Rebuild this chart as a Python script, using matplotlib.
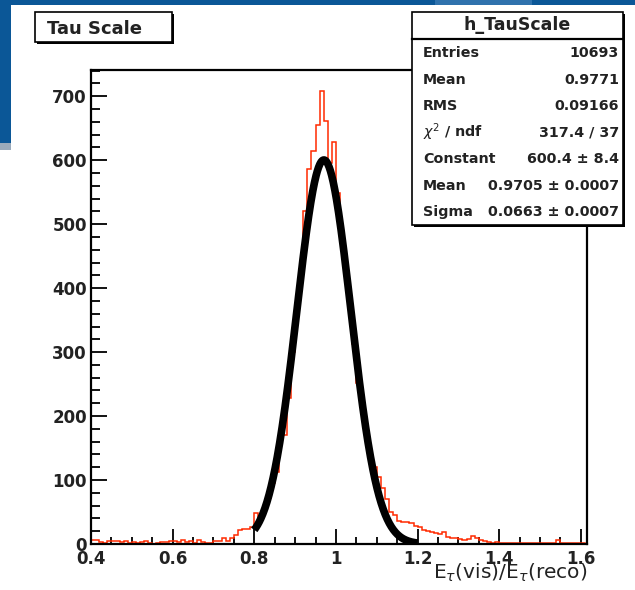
import numpy as np
import matplotlib.pyplot as plt
from matplotlib.patches import Rectangle
from matplotlib.ticker import MultipleLocator

# h_TauScale bin contents, 0.01 wide bins starting at 0.40
counts_low = [6, 7, 3, 2, 5, 4, 4, 3, 4, 2,
              3, 2, 3, 4, 1, 0, 1, 3, 3, 4,
              5, 3, 6, 3, 5, 2, 6, 3, 2, 1,
              5, 4, 9, 5, 10, 14, 22, 23, 23, 26]
counts_core = [48, 36, 55, 72, 95, 112, 165, 170, 228, 300,
               362, 430, 520, 587, 614, 655, 708, 661, 595, 629,
               548, 470, 440, 368, 312, 252, 214, 172, 134, 120,
               105, 88, 70, 50]
counts_high = [45, 36, 35, 34, 33, 28, 26, 22, 20, 18,
               17, 15, 19, 11, 10, 9, 8, 7, 8, 12,
               9, 6, 4, 3, 2, 3, 2, 1, 2, 1,
               2, 1, 2, 1, 2, 1, 1, 2, 1, 2,
               6, 2, 1, 1, 2, 1, 1]
counts = counts_low + counts_core + counts_high
x_first = 0.40
bin_width = 0.01

# gaussian fit result
fit_const = 600.4
fit_mean = 0.9705
fit_sigma = 0.0663
fit_lo, fit_hi = 0.8, 1.2

stat_names = ['Entries', 'Mean', 'RMS', r'$\chi^2$ / ndf',
              'Constant', 'Mean', 'Sigma']
stat_values = ['10693', '0.9771', '0.09166', '317.4 / 37',
               '600.4 \u00b1 8.4', '0.9705 \u00b1 0.0007', '0.0663 \u00b1 0.0007']

xticks = [0.4, 0.6, 0.8, 1.0, 1.2, 1.4, 1.6]
xtick_labels = ['0.4', '0.6', '0.8', '1', '1.2', '1.4', '1.6']
yticks = [0, 100, 200, 300, 400, 500, 600, 700]

W, H = 635, 590
fig = plt.figure(figsize=(W / 100, H / 100), dpi=100)
fig.patch.set_facecolor('white')


def box(x0, y0, x1, y1, **kw):
    # rectangle given in pixels from the top-left corner
    r = Rectangle((x0 / W, 1 - y1 / H), (x1 - x0) / W, (y1 - y0) / H,
                  transform=fig.transFigure, **kw)
    fig.add_artist(r)
    return r


def txt(x, y, s, **kw):
    return fig.text(x / W, 1 - y / H, s, **kw)


# slide background around the canvas
blue = '#0b5797'
box(0, 0, W, 5, facecolor=blue, edgecolor='none', zorder=0)
box(435, 0, 532, 5, facecolor='#2f72ad', edgecolor='none', zorder=0)
box(0, 0, 11, 143, facecolor=blue, edgecolor='none', zorder=0)
box(0, 143, 11, 150, facecolor='#9aaabb', edgecolor='none', zorder=0)

ax = fig.add_axes([91 / W, 1 - 544 / H, (587 - 91) / W, (544 - 70) / H])
edges = x_first + bin_width * np.arange(len(counts) + 1)
ax.stairs(counts, edges, color='#ff2a00', lw=1.1, zorder=2)

xs = np.linspace(fit_lo, fit_hi, 400)
ys = fit_const * np.exp(-0.5 * ((xs - fit_mean) / fit_sigma) ** 2)
ax.plot(xs, ys, color='black', lw=5.5, solid_capstyle='butt', zorder=3)

ax.set_xlim(0.4, 1.615)
ax.set_ylim(0, 741)
ax.set_xticks(xticks)
ax.set_xticklabels(xtick_labels)
ax.set_yticks(yticks)
ax.xaxis.set_minor_locator(MultipleLocator(0.05))
ax.yaxis.set_minor_locator(MultipleLocator(20))
ax.tick_params(axis='x', which='major', direction='in', length=11, width=1.3, pad=4)
ax.tick_params(axis='x', which='minor', direction='in', length=5, width=1.3)
ax.tick_params(axis='y', which='major', direction='in', length=11.5, width=1.3, pad=3)
ax.tick_params(axis='y', which='minor', direction='in', length=6.5, width=1.3)
for lab in ax.get_xticklabels() + ax.get_yticklabels():
    lab.set_fontsize(12)
    lab.set_fontweight('bold')
    lab.set_color('#222222')
for sp in ax.spines.values():
    sp.set_linewidth(1.6)

txt(587, 573, r'E$_{\tau}$(vis)/E$_{\tau}$(reco)', ha='right', va='center',
    fontsize=14.5, color='#222222')

# title box
box(37, 14, 174, 44, facecolor='black', edgecolor='none', zorder=5)
box(35, 12, 172, 42, facecolor='white', edgecolor='black', lw=1.2, zorder=6)
txt(47, 29, 'Tau Scale', ha='left', va='center', fontsize=13,
    fontweight='bold', color='#222222', zorder=7)

# statistics box
box(414, 14, 625, 227, facecolor='black', edgecolor='none', zorder=5)
box(412, 12, 623, 225, facecolor='white', edgecolor='black', lw=1.2, zorder=6)
fig.add_artist(plt.Line2D([412 / W, 623 / W], [1 - 38.5 / H, 1 - 38.5 / H],
                          transform=fig.transFigure, color='black', lw=1.6, zorder=7))
txt(517, 25, 'h_TauScale', ha='center', va='center', fontsize=12.5,
    fontweight='bold', color='#222222', zorder=7)
for i, (name, val) in enumerate(zip(stat_names, stat_values)):
    y = 53 + i * 26.5
    txt(423, y, name, ha='left', va='center', fontsize=10.3,
        fontweight='bold', color='#222222', zorder=7)
    txt(619, y, val, ha='right', va='center', fontsize=10.3,
        fontweight='bold', color='#222222', zorder=7)

fig.savefig('out.png', dpi=100)
